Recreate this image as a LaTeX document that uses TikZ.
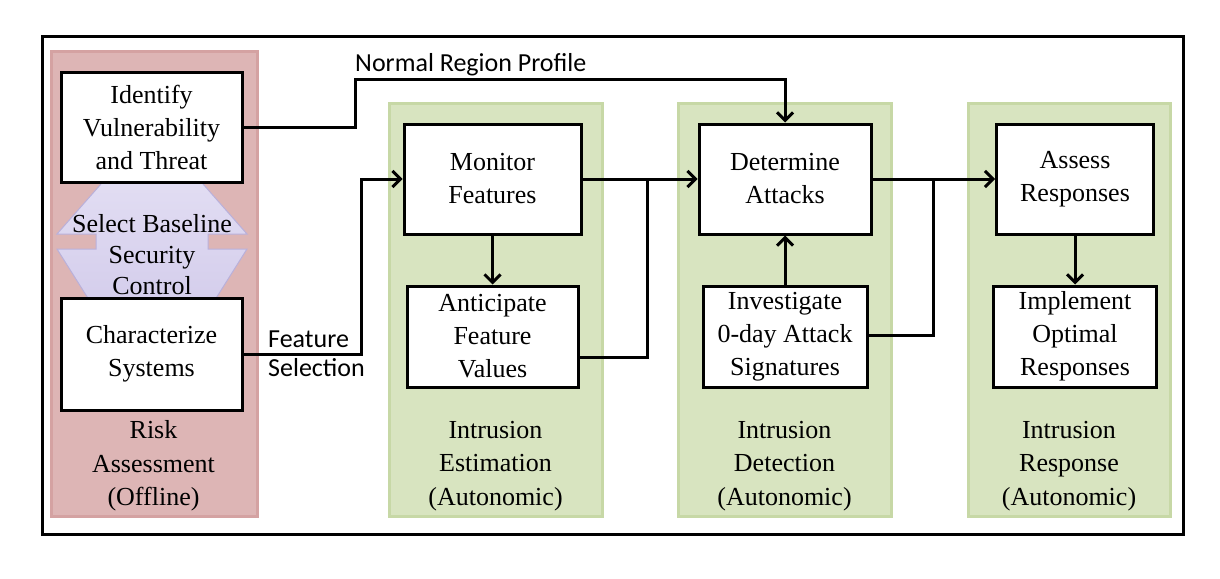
\documentclass[tikz,border=0pt]{standalone}
\usepackage{fontspec}
\setmainfont{Liberation Serif}
\newfontfamily\calibri{Carlito}
\usepackage{tikz}
\usetikzlibrary{positioning,arrows.meta}
\definecolor{riskpink}{HTML}{DDB5B5}
\definecolor{riskedge}{HTML}{D4A2A2}
\definecolor{autogreen}{HTML}{D8E4C0}
\definecolor{autoedge}{HTML}{C7D8A6}
\definecolor{ctrltop}{HTML}{E8E4F6}
\definecolor{ctrlbot}{HTML}{C9C1E6}
\definecolor{ctrledge}{HTML}{B9B0DA}

\begin{document}
\begin{tikzpicture}[x=1pt, y=-1pt,
    box/.style={draw, line width=3pt, fill=white, align=center, inner sep=0pt,
      font=\fontsize{26}{33}\selectfont},
    lbl/.style={align=center, inner sep=0pt, font=\fontsize{26}{33.5}\selectfont},
    tag/.style={inner sep=0pt, font=\calibri\fontsize{26}{30}\selectfont},
    flow/.style={line width=3pt, -{Straight Barb[length=8pt,width=16pt]}},
    wire/.style={line width=3pt}]
  \useasboundingbox (0,0) rectangle (1220,578);

  % outer frame
  \draw[line width=3pt] (42,37) rectangle (1183,534);

  % panels
  \draw[riskedge, fill=riskpink, line width=3pt] (51,52) rectangle (257,516);
  \node[lbl] (risklbl) at (153.5,466) {Risk\\Assessment\\(Offline)};
  \foreach \xa/\xb/\name/\word in {389/602/est/Estimation, 678/891/det/Detection, 968/1170/res/Response}{
    \draw[autoedge, fill=autogreen, line width=3pt] (\xa,103) rectangle (\xb,516);
    \node[lbl] (\name lbl) at ({(\xa+\xb)/2},466) {Intrusion\\\word\\(Autonomic)};
  }

  % double arrow between the risk boxes
  \path[draw=ctrledge, line width=1pt, top color=ctrltop, bottom color=ctrlbot]
    (152,126) -- (247,234) -- (208,234) -- (208,249) -- (247,249) -- (152,400)
    -- (57,249) -- (96,249) -- (96,234) -- (57,234) -- cycle;
  \node[lbl, font=\fontsize{26}{31}\selectfont] (ctrl) at (152,255) {Select Baseline\\Security\\Control};

  % boxes
  \node[box, minimum width=181pt, minimum height=110pt] (identify) at (151.5,127) {Identify\\Vulnerability\\and Threat};
  \node[box, minimum width=181pt, minimum height=112pt] (character) at (151.5,354) {Characterize\\Systems};

  \node[box, minimum width=177pt, minimum height=110pt] (monitor) at (492.5,179) {Monitor\\Features};
  \node[box, minimum width=171pt, minimum height=101pt, below=49pt of monitor] (anticip) {Anticipate\\Feature\\Values};

  \node[box, minimum width=172pt, minimum height=110pt] (determine) at (785,179) {Determine\\Attacks};
  \node[box, minimum width=164pt, minimum height=101pt, below=49pt of determine] (investig) {Investigate\\0-day Attack\\Signatures};

  \node[box, minimum width=157pt, minimum height=110pt] (assess) at (1075,179) {Assess\\Responses};
  \node[box, minimum width=163pt, minimum height=101pt, below=49pt of assess] (implement) {Implement\\Optimal\\Responses};

  % connectors
  \coordinate (nrp) at (355,79);
  \draw[flow] (identify.east) -| (nrp) -| (determine.north);
  \node[tag, anchor=base west] (nrptext) at (355,71) {Normal Region Profile};

  \draw[flow] (character.east) -- ++(118,0) |- (monitor.west);
  \node[tag, anchor=base west] (feattext) at (268,347) {Feature};
  \node[tag, anchor=base west] (seltext) at (268,376) {Selection};

  \draw[flow] (monitor.east) -- (determine.west);
  \draw[flow] (monitor.south) -- (anticip.north);
  \coordinate (j1) at (647,179);
  \draw[wire] ([yshift=-20.5pt]anticip.east) -| (j1);

  \draw[flow] (determine.east) -- (assess.west);
  \draw[flow] (investig.north) -- (determine.south);
  \coordinate (j2) at (933,179);
  \draw[wire] ([yshift=1.5pt]investig.east) -| (j2);

  \draw[flow] (assess.south) -- (implement.north);
\end{tikzpicture}
\end{document}
